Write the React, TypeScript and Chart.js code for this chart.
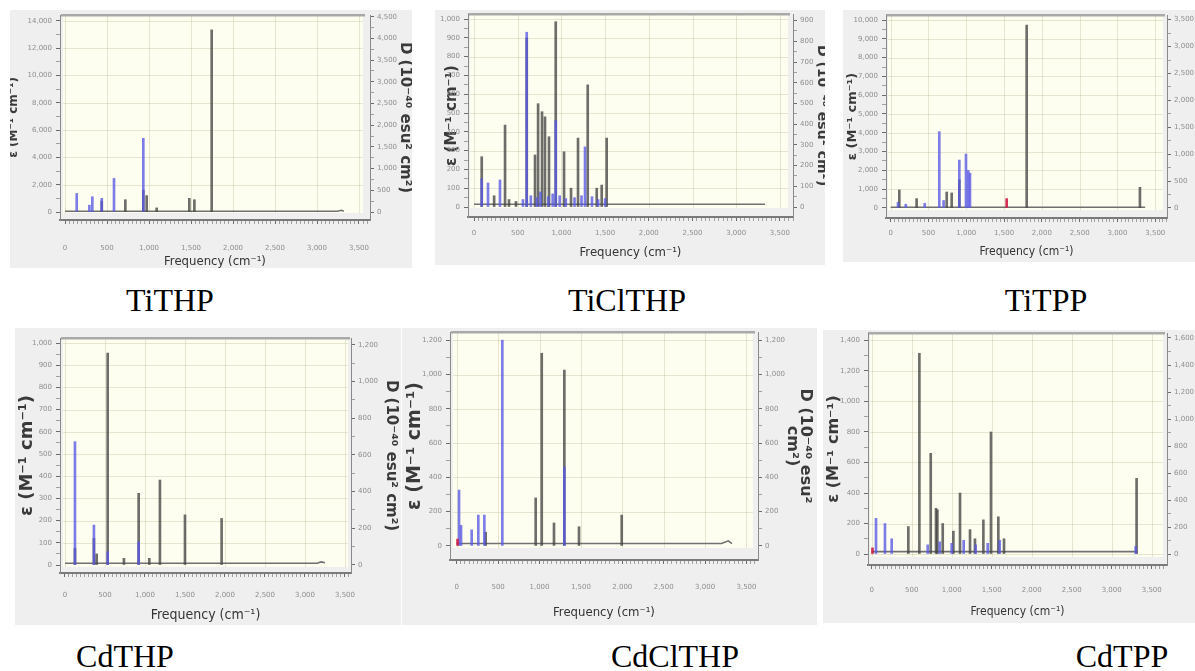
import React, { useEffect, useRef } from 'react';
import { Chart, registerables } from 'chart.js';

Chart.register(...registerables);

// ---------------- values ----------------
const FREQ_MAJOR = [0, 500, 1000, 1500, 2000, 2500, 3000, 3500];
const FREQ_MINOR_STEP = 50;

const PANEL_NAMES = ['TiTHP', 'TiClTHP', 'TiTPP', 'CdTHP', 'CdClTHP', 'CdTPP'];

// TiTHP
const tiTHPGrayFreq = [437, 718, 932, 972, 1091, 1480, 1540, 1746];
const tiTHPGrayEps = [800, 900, 1600, 1200, 300, 1000, 900, 13340];
const tiTHPBlueFreq = [139, 290, 325, 437, 583, 932];
const tiTHPBlueEps = [1360, 500, 1120, 1000, 2460, 5400];
const tiTHPBaseFreq = [0, 3240, 3290, 3320];
const tiTHPBaseEps = [50, 50, 130, 50];
const tiTHPLeftTicks = [0, 2000, 4000, 6000, 8000, 10000, 12000, 14000];
const tiTHPRightTicks = [0, 500, 1000, 1500, 2000, 2500, 3000, 3500, 4000, 4500];

// TiClTHP
const tiClTHPGrayFreq = [88, 230, 355, 400, 480, 603, 698, 733, 778, 812, 858, 935, 1030, 1110, 1190, 1301, 1404, 1461, 1518];
const tiClTHPGrayEps = [268, 60, 436, 40, 30, 900, 277, 550, 507, 480, 374, 986, 294, 100, 367, 650, 100, 117, 367];
const tiClTHPBlueFreq = [88, 160, 297, 560, 603, 650, 720, 760, 850, 900, 935, 980, 1050, 1150, 1230, 1270, 1350, 1420, 1500];
const tiClTHPBlueEps = [150, 128, 144, 40, 930, 60, 50, 80, 55, 70, 460, 60, 45, 50, 60, 320, 55, 40, 45];
const tiClTHPBaseFreq = [0, 3330];
const tiClTHPBaseEps = [15, 15];
const tiClTHPLeftTicks = [0, 100, 200, 300, 400, 500, 600, 700, 800, 900, 1000];
const tiClTHPRightTicks = [0, 100, 200, 300, 400, 500, 600, 700, 800, 900];

// TiTPP
const tiTPPGrayFreq = [114, 343, 741, 807, 908, 1799, 3297];
const tiTPPGrayEps = [960, 500, 850, 800, 1500, 9730, 1100];
const tiTPPBlueFreq = [97, 200, 450, 643, 700, 908, 996, 1027, 1049];
const tiTPPBlueEps = [300, 200, 250, 4060, 400, 2550, 2870, 2000, 1850];
const tiTPPRedFreq = [1534];
const tiTPPRedEps = [500];
const tiTPPBaseFreq = [0, 3366];
const tiTPPBaseEps = [40, 40];
const tiTPPLeftTicks = [0, 1000, 2000, 3000, 4000, 5000, 6000, 7000, 8000, 9000, 10000];
const tiTPPRightTicks = [0, 500, 1000, 1500, 2000, 2500, 3000, 3500];

// CdTHP
const cdTHPGrayFreq = [125, 362, 396, 534, 737, 921, 1054, 1187, 1500, 1958];
const cdTHPGrayEps = [75, 120, 50, 955, 30, 323, 30, 383, 226, 210];
const cdTHPBlueFreq = [125, 362, 534, 921];
const cdTHPBlueEps = [556, 180, 60, 105];
const cdTHPBaseFreq = [0, 3150, 3200, 3250];
const cdTHPBaseEps = [8, 8, 14, 10];
const cdTHPLeftTicks = [0, 100, 200, 300, 400, 500, 600, 700, 800, 900, 1000];
const cdTHPRightTicks = [0, 200, 400, 600, 800, 1000, 1200];

// CdClTHP
const cdClTHPGrayFreq = [350, 954, 1027, 1175, 1300, 1477, 1993];
const cdClTHPGrayEps = [80, 280, 1124, 134, 1026, 112, 180];
const cdClTHPBlueFreq = [28, 52, 181, 261, 334, 551, 1300];
const cdClTHPBlueEps = [326, 120, 94, 180, 180, 1200, 460];
const cdClTHPRedFreq = [10];
const cdClTHPRedEps = [40];
const cdClTHPBaseFreq = [0, 3200, 3280, 3325];
const cdClTHPBaseEps = [14, 14, 30, 14];
const cdClTHPLeftTicks = [0, 200, 400, 600, 800, 1000, 1200];
const cdClTHPRightTicks = [0, 200, 400, 600, 800, 1000, 1200];

// CdTPP
const cdTPPGrayFreq = [458, 596, 738, 804, 821, 888, 1021, 1104, 1229, 1291, 1396, 1491, 1583, 1654, 3311];
const cdTPPGrayEps = [180, 1316, 660, 300, 290, 200, 150, 400, 160, 100, 224, 800, 244, 100, 496];
const cdTPPBlueFreq = [54, 166, 250, 700, 850, 1000, 1150, 1300, 1450, 1600, 3300];
const cdTPPBlueEps = [234, 200, 100, 60, 80, 70, 90, 60, 70, 90, 50];
const cdTPPRedFreq = [10];
const cdTPPRedEps = [40];
const cdTPPBaseFreq = [0, 3320];
const cdTPPBaseEps = [16, 16];
const cdTPPLeftTicks = [0, 200, 400, 600, 800, 1000, 1200, 1400];
const cdTPPRightTicks = [0, 200, 400, 600, 800, 1000, 1200, 1400, 1600];

// ---------------- assembly tables ----------------
type XY = [number[], number[]];
interface Spec {
  gray: XY; blue: XY; red: XY | null; base: XY; left: number[]; right: number[];
}
const SPECS: Spec[] = [
  { gray: [tiTHPGrayFreq, tiTHPGrayEps], blue: [tiTHPBlueFreq, tiTHPBlueEps], red: null, base: [tiTHPBaseFreq, tiTHPBaseEps], left: tiTHPLeftTicks, right: tiTHPRightTicks },
  { gray: [tiClTHPGrayFreq, tiClTHPGrayEps], blue: [tiClTHPBlueFreq, tiClTHPBlueEps], red: null, base: [tiClTHPBaseFreq, tiClTHPBaseEps], left: tiClTHPLeftTicks, right: tiClTHPRightTicks },
  { gray: [tiTPPGrayFreq, tiTPPGrayEps], blue: [tiTPPBlueFreq, tiTPPBlueEps], red: [tiTPPRedFreq, tiTPPRedEps], base: [tiTPPBaseFreq, tiTPPBaseEps], left: tiTPPLeftTicks, right: tiTPPRightTicks },
  { gray: [cdTHPGrayFreq, cdTHPGrayEps], blue: [cdTHPBlueFreq, cdTHPBlueEps], red: null, base: [cdTHPBaseFreq, cdTHPBaseEps], left: cdTHPLeftTicks, right: cdTHPRightTicks },
  { gray: [cdClTHPGrayFreq, cdClTHPGrayEps], blue: [cdClTHPBlueFreq, cdClTHPBlueEps], red: [cdClTHPRedFreq, cdClTHPRedEps], base: [cdClTHPBaseFreq, cdClTHPBaseEps], left: cdClTHPLeftTicks, right: cdClTHPRightTicks },
  { gray: [cdTPPGrayFreq, cdTPPGrayEps], blue: [cdTPPBlueFreq, cdTPPBlueEps], red: [cdTPPRedFreq, cdTPPRedEps], base: [cdTPPBaseFreq, cdTPPBaseEps], left: cdTPPLeftTicks, right: cdTPPRightTicks },
];

// layout (page pixels): frame box, chart area, ivory plot box, axis ranges, titles
interface Lay {
  frame: number[]; ca: number[]; ivory: number[]; xr: number[]; yl: number[]; yr: number[];
  lt: number[]; rt: number[]; rtLines?: boolean; xt: number[]; xpad: number; label: number[];
}
const LAYOUT: Lay[] = [
  { frame: [10, 10, 402, 258], ca: [60, 15, 370, 220], ivory: [63, 15, 363, 213], xr: [-60, 3631], yl: [-586, 14432], yr: [-184, 4539], lt: [14, 12], rt: [405, 15], xt: [262, 13], xpad: 20, label: [170, 311] },
  { frame: [435, 10, 390, 255], ca: [468, 14, 793, 217], ivory: [470, 14, 788, 208], xr: [-69, 3650], yl: [-53, 1027], yr: [-48, 932], lt: [452, 15], rt: [822, 14], xt: [253, 13], xpad: 8, label: [627, 311] },
  { frame: [843, 10, 352, 252], ca: [886, 15, 1167, 218], ivory: [888, 15, 1163, 210], xr: [-62, 3655], yl: [-532, 10266], yr: [-186, 3587], lt: [853, 13], rt: [1207, 14], xt: [252, 12], xpad: 7, label: [1046, 311] },
  { frame: [15, 328, 386, 297], ca: [60, 338, 351, 573], ivory: [63, 338, 348, 567], xr: [-62, 3575], yl: [-36, 1023], yr: [-44, 1237], lt: [27, 18], rt: [391, 15], xt: [615, 14], xpad: 14, label: [125, 667] },
  { frame: [402, 328, 415, 297], ca: [450, 332, 758, 560], ivory: [453, 332, 753, 548], xr: [-81, 3639], yl: [-82, 1248], yr: [-82, 1248], lt: [415, 19], rt: [805, 16], rtLines: true, xt: [613, 13], xpad: 19, label: [675, 667] },
  { frame: [823, 330, 372, 293], ca: [868, 333, 1167, 565], ivory: [870, 333, 1163, 557], xr: [-46, 3691], yl: [-72, 1449], yr: [-81, 1637], lt: [834, 16], rt: [1207, 15], xt: [612, 12], xpad: 17, label: [1122, 667] },
];

const EXT = 24;
const TICK_FONT = { family: '"DejaVu Sans", sans-serif', size: 7 };
const TICK_COLOR = '#8e8e8e';
const TITLE_FAMILY = '"DejaVu Sans", sans-serif';
const NARROW_FAMILY = '"Liberation Sans Narrow", "DejaVu Sans Condensed", sans-serif';
const fmt = (v: number) => v.toLocaleString('en-US');

function withHalves(t: number[]): number[] {
  const out: number[] = [];
  for (let i = 0; i < t.length; i++) {
    out.push(t[i]);
    if (i < t.length - 1) out.push((t[i] + t[i + 1]) / 2);
  }
  return out;
}

function buildChart(canvas: HTMLCanvasElement, spec: Spec, lay: Lay) {
  const [fx, fy, fw, fh] = lay.frame;
  const ox = fx - EXT, oy = fy - EXT;
  const W = fw + 2 * EXT, H = fh + 2 * EXT;
  const [cl, ct, cr, cb] = lay.ca;
  const [il, it, ir, ib] = lay.ivory;

  const xTicks: number[] = [];
  for (let v = 0; v <= lay.xr[1]; v += FREQ_MINOR_STEP) xTicks.push(v);
  const leftT = withHalves(spec.left);
  const rightT = withHalves(spec.right);

  const sticks = (d: XY, color: string, order: number) => ({
    type: 'bar' as const,
    data: d[0].map((f, i) => ({ x: f, y: d[1][i] })),
    backgroundColor: color,
    borderWidth: 0,
    barThickness: 2,
    grouped: false,
    yAxisID: 'y',
    order,
  });

  const datasets: any[] = [
    {
      type: 'line',
      data: spec.base[0].map((f, i) => ({ x: f, y: spec.base[1][i] })),
      borderColor: '#707070',
      borderWidth: 1.6,
      pointRadius: 0,
      tension: 0,
      yAxisID: 'y',
      order: 4,
    },
    sticks(spec.gray, 'rgba(68,68,68,0.78)', 3),
    sticks(spec.blue, 'rgba(88,88,228,0.78)', 2),
  ];
  if (spec.red) datasets.push(sticks(spec.red, 'rgba(205,30,70,0.9)', 1));

  const backdrop = {
    id: 'backdrop',
    beforeDraw(c: any) {
      const ctx = c.ctx;
      const L = il - ox, T = it - oy, R = ir - ox, B = ib - oy;
      ctx.save();
      ctx.fillStyle = '#fefef0';
      ctx.fillRect(L, T, R - L, B - T);
      ctx.strokeStyle = 'rgba(185,185,150,0.35)';
      ctx.lineWidth = 1;
      ctx.beginPath();
      FREQ_MAJOR.forEach((v) => {
        const px = Math.round(c.scales.x.getPixelForValue(v)) + 0.5;
        if (px > L + 1 && px < R - 1) { ctx.moveTo(px, T); ctx.lineTo(px, B); }
      });
      spec.left.forEach((v) => {
        const py = Math.round(c.scales.y.getPixelForValue(v)) + 0.5;
        if (py > T + 2 && py < B - 2) { ctx.moveTo(L, py); ctx.lineTo(R, py); }
      });
      ctx.stroke();
      ctx.fillStyle = '#a9a9a9';
      ctx.fillRect(L - 2, T - 1, R - L + 4, 2.5);
      ctx.restore();
    },
  };

  const ltSize = lay.lt[1];
  const rtSize = lay.rt[1];
  const rtLH = lay.rtLines ? 0.78 : 1.2;
  const xtSize = lay.xt[1];

  return new Chart(canvas, {
    type: 'bar',
    data: { datasets },
    plugins: [backdrop],
    options: {
      animation: false,
      responsive: false,
      maintainAspectRatio: false,
      events: [],
      layout: { padding: { top: ct - oy, left: 0, right: 0, bottom: 0 } },
      plugins: { legend: { display: false }, tooltip: { enabled: false } },
      scales: {
        x: {
          type: 'linear',
          min: lay.xr[0],
          max: lay.xr[1],
          offset: false,
          afterBuildTicks: (s: any) => { s.ticks = xTicks.map((v) => ({ value: v })); },
          afterFit: (s: any) => { s.height = oy + H - cb; },
          ticks: {
            autoSkip: false, maxRotation: 0, minRotation: 0, padding: lay.xpad,
            font: TICK_FONT, color: TICK_COLOR,
            callback: (v: any) => (FREQ_MAJOR.includes(v) ? fmt(v) : ''),
          },
          grid: {
            drawOnChartArea: false, drawTicks: true, tickLength: 4, offset: false,
            tickColor: (c: any) => (c.tick && FREQ_MAJOR.includes(c.tick.value) ? '#6c6c6c' : '#a0a0a0'),
          },
          border: { display: true, color: '#7a7a7a', width: 2 },
          title: {
            display: true, text: 'Frequency (cm⁻¹)', color: '#333',
            font: { family: NARROW_FAMILY, size: xtSize },
            padding: { top: 0, bottom: oy + H - lay.xt[0] - (xtSize * 1.2) / 2 },
          },
        },
        y: {
          type: 'linear',
          position: 'left',
          min: lay.yl[0],
          max: lay.yl[1],
          afterBuildTicks: (s: any) => { s.ticks = leftT.map((v) => ({ value: v })); },
          afterFit: (s: any) => { s.width = cl - ox; },
          ticks: {
            autoSkip: false, padding: 4, font: TICK_FONT, color: TICK_COLOR,
            callback: (v: any) => (spec.left.includes(v) ? fmt(v) : ''),
          },
          grid: {
            drawOnChartArea: false, drawTicks: true, tickLength: 4,
            tickColor: (c: any) => (c.tick && spec.left.includes(c.tick.value) ? '#6c6c6c' : '#a0a0a0'),
          },
          border: { display: true, color: '#8a8a8a', width: 1 },
          title: {
            display: true, text: 'ε (M⁻¹ cm⁻¹)', color: '#3a3a3a',
            font: { family: TITLE_FAMILY, size: ltSize, weight: 'bold' },
            padding: { top: lay.lt[0] - ox - (ltSize * 1.2) / 2, bottom: 0 },
          },
        },
        y2: {
          type: 'linear',
          position: 'right',
          min: lay.yr[0],
          max: lay.yr[1],
          afterBuildTicks: (s: any) => { s.ticks = rightT.map((v) => ({ value: v })); },
          afterFit: (s: any) => { s.width = ox + W - cr; },
          ticks: {
            autoSkip: false, padding: 3, font: TICK_FONT, color: TICK_COLOR,
            callback: (v: any) => (spec.right.includes(v) ? fmt(v) : ''),
          },
          grid: {
            drawOnChartArea: false, drawTicks: true, tickLength: 4,
            tickColor: (c: any) => (c.tick && spec.right.includes(c.tick.value) ? '#6c6c6c' : '#a0a0a0'),
          },
          border: { display: true, color: '#8a8a8a', width: 1 },
          title: {
            display: true,
            text: lay.rtLines ? ['D (10⁻⁴⁰ esu²', 'cm²)'] : 'D (10⁻⁴⁰ esu² cm²)',
            color: '#3a3a3a',
            font: { family: TITLE_FAMILY, size: rtSize, weight: 'bold', lineHeight: rtLH },
            padding: { top: ox + W - lay.rt[0] - (rtSize * rtLH) / 2, bottom: 0 },
          },
        },
      },
    } as any,
  });
}

function Panel({ spec, lay }: { spec: Spec; lay: Lay }) {
  const ref = useRef<HTMLCanvasElement>(null);
  useEffect(() => {
    const chart = buildChart(ref.current as HTMLCanvasElement, spec, lay);
    return () => chart.destroy();
  }, []);
  const [fx, fy, fw, fh] = lay.frame;
  const W = fw + 2 * EXT, H = fh + 2 * EXT;
  return (
    <div style={{ position: 'absolute', left: fx, top: fy, width: fw, height: fh, overflow: 'hidden', background: '#efefef' }}>
      <canvas ref={ref} width={W} height={H} style={{ position: 'absolute', left: -EXT, top: -EXT, width: W, height: H }} />
    </div>
  );
}

export default function App() {
  return (
    <div style={{ position: 'absolute', left: 0, top: 0, width: 1195, height: 671, overflow: 'hidden', background: '#ffffff' }}>
      {SPECS.map((s, i) => (
        <Panel key={i} spec={s} lay={LAYOUT[i]} />
      ))}
      {PANEL_NAMES.map((n, i) => (
        <div
          key={n}
          style={{
            position: 'absolute',
            left: LAYOUT[i].label[0],
            top: LAYOUT[i].label[1] - 26.8,
            transform: 'translateX(-50%)',
            fontFamily: '"Liberation Serif", serif',
            fontSize: 32,
            lineHeight: '32px',
            color: '#000',
            whiteSpace: 'nowrap',
          }}
        >
          {n}
        </div>
      ))}
    </div>
  );
}
